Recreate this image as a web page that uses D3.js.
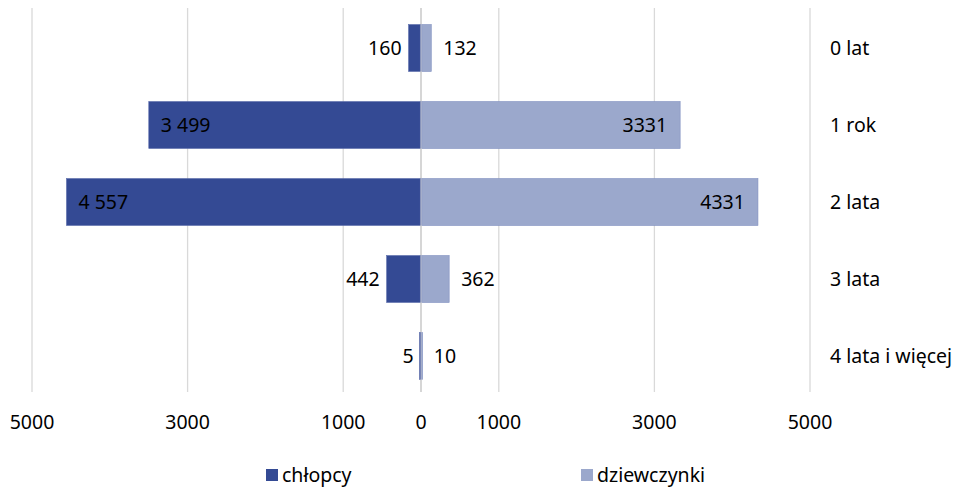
<!DOCTYPE html>
<html>
<head>
<meta charset="utf-8">
<script src="https://cdn.jsdelivr.net/npm/d3@7"></script>
<style>
  body { margin: 0; background: #fff; }
  text { font-family: "Noto Sans", "Open Sans", sans-serif; fill: #000; }
</style>
</head>
<body>
<script>
  // data
  const ages = ["0 lat", "1 rok", "2 lata", "3 lata", "4 lata i więcej"];
  const boys = [160, 3499, 4557, 442, 5];
  const girls = [132, 3331, 4331, 362, 10];
  const boysLabels = ["160", "3 499", "4 557", "442", "5"];
  const girlsLabels = ["132", "3331", "4331", "362", "10"];
  const tickValues = [-5000, -3000, -1000, 0, 1000, 3000, 5000];
  const seriesNames = ["chłopcy", "dziewczynki"];

  const colors = { boys: "#344a94", girls: "#9ba8cc" };

  const width = 968, height = 488;
  const svg = d3.select("body").append("svg")
    .attr("width", width)
    .attr("height", height);

  const x = d3.scaleLinear().domain([-5000, 5000]).range([32, 810]);
  const y = d3.scaleBand().domain(ages).range([9.5, 394.5]).paddingInner(0.39).paddingOuter(0.195);

  // grid lines
  svg.append("g").selectAll("line")
    .data(tickValues.filter(d => d !== 0))
    .enter().append("line")
    .attr("x1", d => x(d)).attr("x2", d => x(d))
    .attr("y1", 8).attr("y2", 392)
    .attr("stroke", "#d9d9d9").attr("stroke-width", 1.3);

  // center axis line
  svg.append("line")
    .attr("x1", x(0)).attr("x2", x(0))
    .attr("y1", 8).attr("y2", 392)
    .attr("stroke", "#c8c8c8").attr("stroke-width", 1.5);

  const rows = ages.map((a, i) => ({ age: a, b: boys[i], g: girls[i], bl: boysLabels[i], gl: girlsLabels[i] }));

  // bars
  svg.append("g").selectAll("rect")
    .data(rows).enter().append("rect")
    .attr("x", d => Math.min(x(-d.b), x(0) - 1.5))
    .attr("y", d => y(d.age))
    .attr("width", d => Math.max(x(0) - x(-d.b) - 0.8, 0.8))
    .attr("height", y.bandwidth())
    .attr("fill", colors.boys)
    .attr("stroke", "#5a6cab").attr("stroke-width", 0.6);

  svg.append("g").selectAll("rect")
    .data(rows).enter().append("rect")
    .attr("x", x(0) + 0.8)
    .attr("y", d => y(d.age))
    .attr("width", d => Math.max(x(d.g) - x(0) - 0.8, 0.8))
    .attr("height", y.bandwidth())
    .attr("fill", colors.girls)
    .attr("stroke", "#8090c0").attr("stroke-width", 0.6);

  // value labels
  const fs = "19.5px";
  svg.append("g").selectAll("text")
    .data(rows).enter().append("text")
    .attr("x", d => d.b > 1000 ? x(-d.b) + 12 : x(-d.b) - 7)
    .attr("y", d => y(d.age) + y.bandwidth() / 2)
    .attr("dy", "0.36em")
    .attr("text-anchor", d => d.b > 1000 ? "start" : "end")
    .style("font-size", fs)
    .text(d => d.bl);

  svg.append("g").selectAll("text")
    .data(rows).enter().append("text")
    .attr("x", d => d.g > 1000 ? x(d.g) - 13 : x(d.g) + 12)
    .attr("y", d => y(d.age) + y.bandwidth() / 2)
    .attr("dy", "0.36em")
    .attr("text-anchor", d => d.g > 1000 ? "end" : "start")
    .style("font-size", fs)
    .text(d => d.gl);

  // category labels on the right
  svg.append("g").selectAll("text")
    .data(ages).enter().append("text")
    .attr("x", 830)
    .attr("y", d => y(d) + y.bandwidth() / 2)
    .attr("dy", "0.36em")
    .style("font-size", fs)
    .text(d => d);

  // x axis tick labels
  svg.append("g").selectAll("text")
    .data(tickValues).enter().append("text")
    .attr("x", d => x(d))
    .attr("y", 422)
    .attr("dy", "0.36em")
    .attr("text-anchor", "middle")
    .style("font-size", fs)
    .text(d => Math.abs(d));

  // legend
  const legend = svg.append("g");
  const legX = [266, 581];
  legend.selectAll("rect")
    .data(seriesNames).enter().append("rect")
    .attr("x", (d, i) => legX[i])
    .attr("y", 469)
    .attr("width", 12).attr("height", 12)
    .attr("fill", (d, i) => i === 0 ? colors.boys : colors.girls);
  legend.selectAll("text")
    .data(seriesNames).enter().append("text")
    .attr("x", (d, i) => legX[i] + 16)
    .attr("y", 475)
    .attr("dy", "0.36em")
    .style("font-size", fs)
    .text(d => d);
</script>
</body>
</html>
